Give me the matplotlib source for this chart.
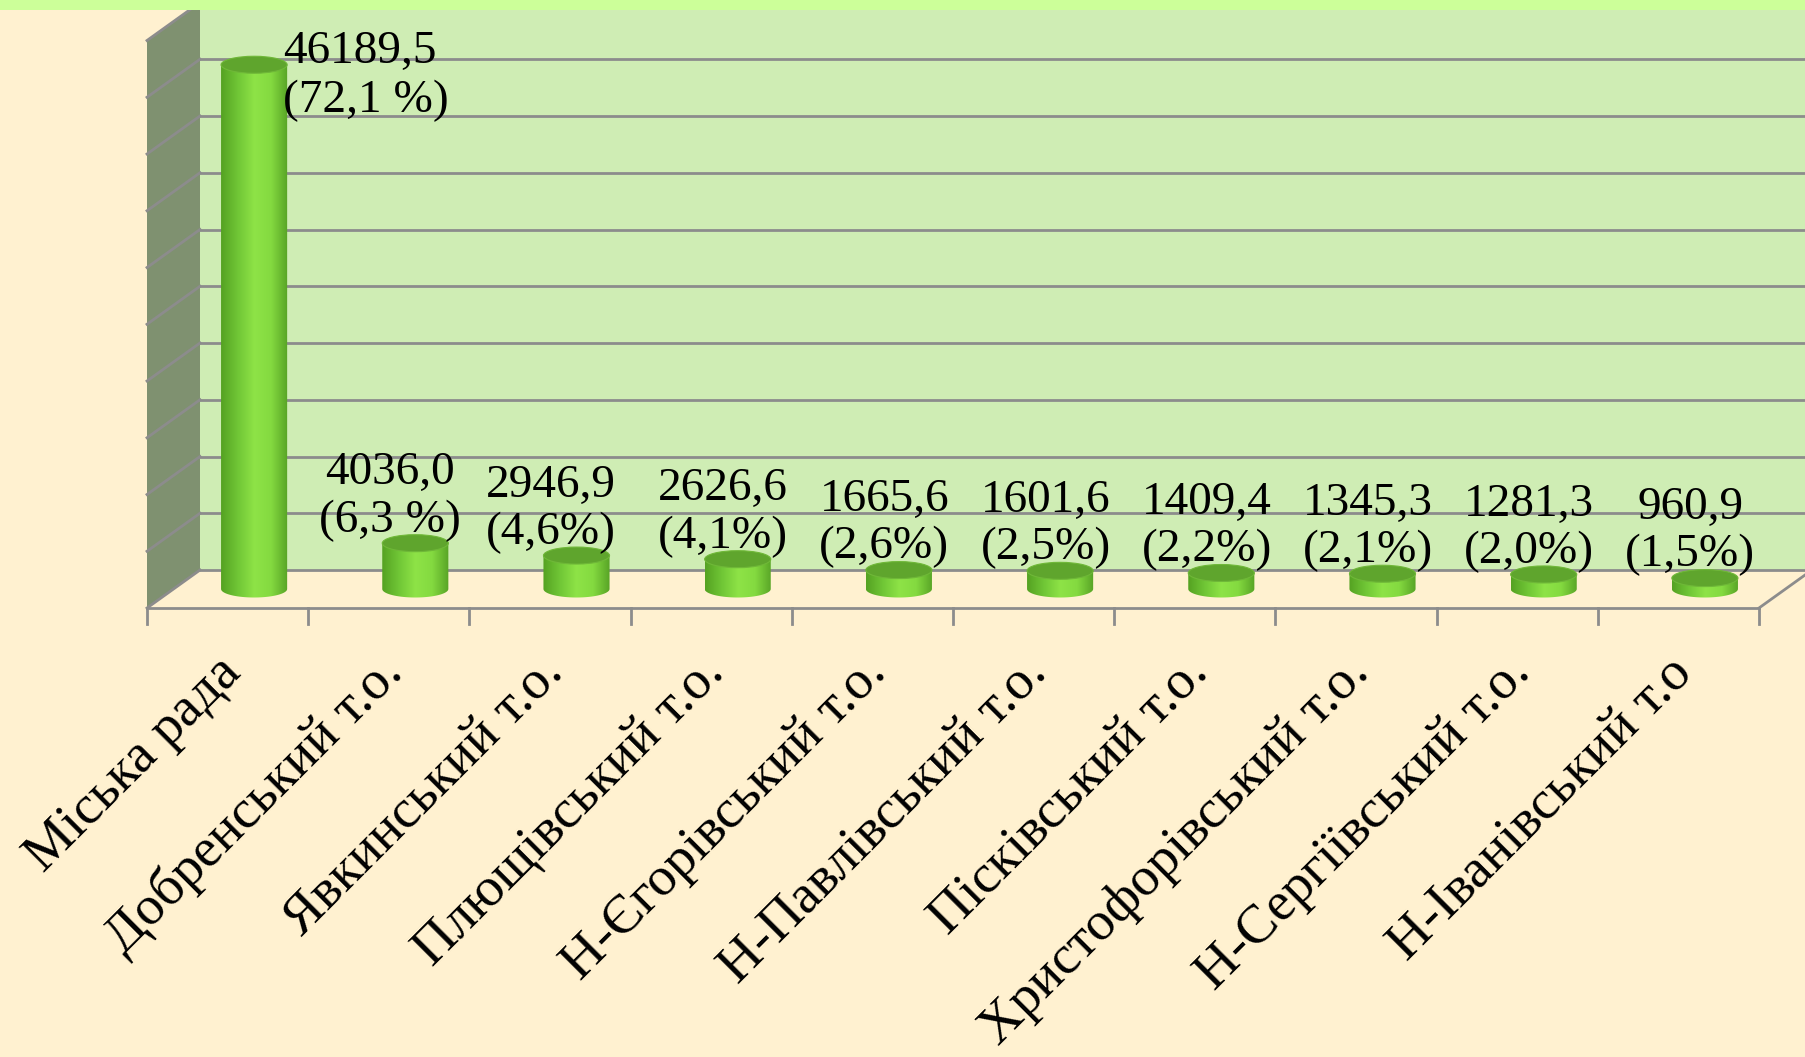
import numpy as np
import matplotlib
matplotlib.use('Agg')
import matplotlib.pyplot as plt
from matplotlib.patches import Rectangle, Polygon, Ellipse, PathPatch
from matplotlib.path import Path
from matplotlib.colors import LinearSegmentedColormap

plt.rcParams['font.family'] = ['Liberation Serif', 'DejaVu Serif']

# дані
categories = ['Міська рада', 'Добренський т.о.', 'Явкинський т.о.',
              'Плющівський т.о.', 'Н-Єгорівський т.о.', 'Н-Павлівський т.о.',
              'Пісківський т.о.', 'Христофорівський т.о.', 'Н-Сергіївський т.о.',
              'Н-Іванівський т.о']
values = [46189.5, 4036.0, 2946.9, 2626.6, 1665.6, 1601.6, 1409.4, 1345.3, 1281.3, 960.9]
value_text = ['46189,5', '4036,0', '2946,9', '2626,6', '1665,6', '1601,6',
              '1409,4', '1345,3', '1281,3', '960,9']
share_text = ['(72,1 %)', '(6,3 %)', '(4,6%)', '(4,1%)', '(2,6%)', '(2,5%)',
              '(2,2%)', '(2,1%)', '(2,0%)', '(1,5%)']
y_max = 50000
y_step = 5000

# кольори
bg = '#FFF1D0'
wall = '#CFEDB4'
side = '#7F9170'
grid_c = '#8C8C8C'
strip = '#CCFF99'

W, H = 1805, 1057
fig = plt.figure(figsize=(W / 100, H / 100), dpi=100)
fig.patch.set_facecolor(bg)
ax = fig.add_axes([0, 0, 1, 1])
ax.axis('off')

# масштаб: пікселі на категорію і на одиницю значення
px_cat = 161.2
px_val = 567.5 / y_max
x0_px = 200   # лівий край задньої стінки
y0_px = 570   # дно задньої стінки (від верху)
xlim = (-x0_px / px_cat, (W - x0_px) / px_cat)
ylim = (-(H - y0_px) / px_val, y0_px / px_val)

# глибина 3D
dx = 53 / px_cat
dy = 38 / px_val
n = len(categories)

# задня стінка
ax.add_patch(Rectangle((0, 0), n + 1, y_max * 1.2, facecolor=wall, edgecolor='none', zorder=1))
# ліва стінка
ax.add_patch(Polygon([(0, 0), (0, y_max * 1.2), (-dx, y_max * 1.2 - dy), (-dx, -dy)],
                     closed=True, facecolor=side, edgecolor='none', zorder=1))
ax.add_patch(Polygon([(-dx, y_max - dy), (0, y_max), (0, y_max * 1.2), (-dx, y_max * 1.2)],
                     closed=True, facecolor=bg, edgecolor='none', zorder=1))

# сітка
for v in np.arange(y_step, y_max + 1, y_step):
    ax.plot([0, n + 1], [v, v], color=grid_c, lw=2, zorder=2)
    ax.plot([-dx, 0], [v - dy, v], color=grid_c, lw=2, zorder=2)

# підлога
ax.add_patch(Polygon([(0, 0), (n + 1, 0), (n + 1 - dx, -dy), (-dx, -dy)],
                     closed=True, facecolor=bg, edgecolor='none', zorder=2))
ax.plot([0, n + 1], [0, 0], color=grid_c, lw=2, zorder=3)
ax.plot([-dx, 0], [-dy, 0], color=grid_c, lw=2, zorder=3)
ax.plot([-dx, n - dx], [-dy, -dy], color=grid_c, lw=2, zorder=3)
ax.plot([n - dx, n], [-dy, 0], color=grid_c, lw=2, zorder=3)
tick_len = 16 / px_val
for i in range(n + 1):
    ax.plot([i - dx, i - dx], [-dy, -dy - tick_len], color=grid_c, lw=2, zorder=3)

# циліндри
cyl = LinearSegmentedColormap.from_list('cyl', ['#55A222', '#70C636', '#8EE347', '#84DA40', '#58A426'])
grad = np.linspace(0, 1, 200).reshape(1, -1)
bw = 0.41
eh = 17 / px_val
for i, v in enumerate(values):
    xc = i + 0.5 - dx / 2
    yb = -dy / 2
    yt = yb + v
    t = np.linspace(np.pi, 2 * np.pi, 40)
    verts = [(xc - bw / 2, yt), (xc - bw / 2, yb)]
    verts += [(xc + bw / 2 * np.cos(a), yb + eh / 2 * np.sin(a)) for a in t]
    verts += [(xc + bw / 2, yt), (xc - bw / 2, yt)]
    body = PathPatch(Path(verts, closed=False), facecolor='none', edgecolor='none', zorder=4)
    ax.add_patch(body)
    im = ax.imshow(grad, cmap=cyl, extent=[xc - bw / 2, xc + bw / 2, yb - eh, yt],
                   aspect='auto', zorder=4, interpolation='bilinear')
    im.set_clip_path(body)
    ax.add_patch(Ellipse((xc, yt), bw, eh, facecolor='#5FA52D', edgecolor='#6FB838', lw=0.8, zorder=5))

    # підписи значень
    label = value_text[i] + '\n' + share_text[i]
    if i == 0:
        ax.annotate(label, (xc + bw / 2, yt), xytext=(-3, -8), textcoords='offset points',
                    ha='left', va='center', fontsize=34, linespacing=1.2, zorder=6)
    else:
        shift = -0.16 if i < 3 else -0.09
        ax.annotate(label, (xc + shift, yt + eh / 2), xytext=(0, -5), textcoords='offset points',
                    ha='center', va='bottom', fontsize=34, linespacing=1.15, zorder=6)

# підписи категорій
for i, c in enumerate(categories):
    ax.annotate(c, (i + 0.5 - dx, -dy), xytext=(4, -41), textcoords='offset points',
                ha='right', va='center', rotation=45, rotation_mode='anchor', fontsize=39.5)

# верхня смуга
ax.add_patch(Rectangle((xlim[0], ylim[1] - 10 / px_val), xlim[1] - xlim[0], 10 / px_val,
                       facecolor=strip, edgecolor='none', zorder=7))

ax.set_xlim(*xlim)
ax.set_ylim(*ylim)
fig.savefig('out.png', dpi=100, facecolor=bg)
